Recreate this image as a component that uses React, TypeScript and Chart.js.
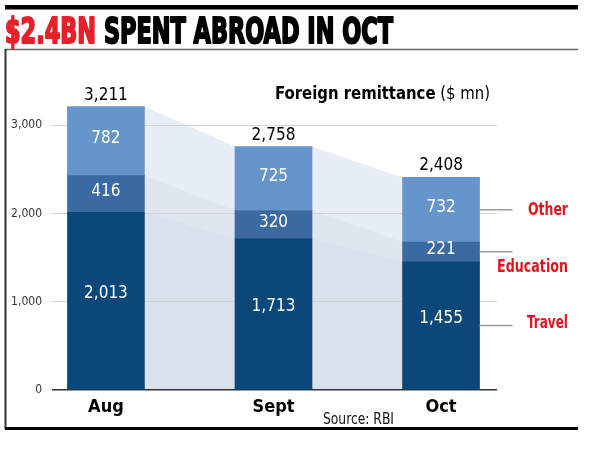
import { useEffect, useRef } from 'react';
import { Chart, registerables } from 'chart.js';
Chart.register(...registerables);

const months = ['Aug', 'Sept', 'Oct'];
const travel = [2013, 1713, 1455];
const education = [416, 320, 221];
const other = [782, 725, 732];
const yTicks = [0, 1000, 2000, 3000];
const seriesNames = ['Travel', 'Education', 'Other'];
const titleRed = '$2.4BN';
const titleBlack = ' SPENT ABROAD IN OCT';
const subtitleBold = 'Foreign remittance';
const subtitleNormal = ' ($ mn)';
const sourceText = 'Source: RBI';

const FAMILY = '"Liberation Sans Narrow", "DejaVu Sans Condensed", "Liberation Sans", Arial, sans-serif';
const BAR_COLORS = ['#0b4779', '#3b6aa3', '#6595cb'];
const SHADE_COLORS = ['#d8e1ec', '#dfe6f0', '#e6edf6'];
const RED = '#e3141f';

type Part = { text: string; font: string; color: string; stroke?: number };

function fitText(ctx: CanvasRenderingContext2D, parts: Part[], x: number, y: number, width: number, align: 'left' | 'right' | 'center' = 'left') {
  let total = 0;
  for (const p of parts) {
    ctx.font = p.font;
    total += ctx.measureText(p.text).width;
  }
  const s = width / total;
  ctx.save();
  const left = align === 'right' ? x - width : align === 'center' ? x - width / 2 : x;
  ctx.translate(left, y);
  ctx.scale(s, 1);
  ctx.textAlign = 'left';
  ctx.textBaseline = 'alphabetic';
  let cx = 0;
  for (const p of parts) {
    ctx.font = p.font;
    ctx.fillStyle = p.color;
    ctx.fillText(p.text, cx, 0);
    if (p.stroke) {
      ctx.strokeStyle = p.color;
      ctx.lineWidth = p.stroke;
      ctx.lineJoin = 'round';
      ctx.strokeText(p.text, cx, 0);
    }
    cx += ctx.measureText(p.text).width;
  }
  ctx.restore();
}

const fmt = (v: number) => v.toLocaleString('en-US');

const decorPlugin = {
  id: 'decor',
  beforeDraw(chart: any) {
    const ctx: CanvasRenderingContext2D = chart.ctx;
    ctx.save();
    ctx.fillStyle = '#ffffff';
    ctx.fillRect(0, 0, chart.width, chart.height);
    // top thick rule
    ctx.fillStyle = '#000';
    ctx.fillRect(5, 5, 573, 4.5);
    // box top
    ctx.strokeStyle = '#666';
    ctx.lineWidth = 1.5;
    ctx.beginPath();
    ctx.moveTo(5, 49.5);
    ctx.lineTo(578, 49.5);
    ctx.stroke();
    // box left
    ctx.strokeStyle = '#333';
    ctx.lineWidth = 2;
    ctx.beginPath();
    ctx.moveTo(5.5, 49);
    ctx.lineTo(5.5, 429);
    ctx.stroke();
    // bottom rule
    ctx.strokeStyle = '#000';
    ctx.lineWidth = 3;
    ctx.beginPath();
    ctx.moveTo(5, 428.5);
    ctx.lineTo(578, 428.5);
    ctx.stroke();
    // title
    const tf = `bold 36px ${FAMILY}`;
    fitText(ctx, [
      { text: titleRed, font: tf, color: '#e8202a', stroke: 2 },
      { text: titleBlack, font: tf, color: '#000', stroke: 2 },
    ], 5, 43, 388);

    // connecting shaded areas between bars
    const metas = [0, 1, 2].map((i) => chart.getDatasetMeta(i));
    const base = chart.scales.y.getPixelForValue(0);
    for (let i = 0; i < months.length - 1; i++) {
      for (let level = 2; level >= 0; level--) {
        const a = metas[level].data[i];
        const b = metas[level].data[i + 1];
        const x1 = a.x + a.width / 2;
        const x2 = b.x - b.width / 2;
        ctx.fillStyle = SHADE_COLORS[level];
        ctx.beginPath();
        ctx.moveTo(x1, a.y);
        ctx.lineTo(x2, b.y);
        ctx.lineTo(x2, base);
        ctx.lineTo(x1, base);
        ctx.closePath();
        ctx.fill();
      }
    }
    ctx.restore();
  },
  afterDatasetsDraw(chart: any) {
    const ctx: CanvasRenderingContext2D = chart.ctx;
    ctx.save();
    const metas = [0, 1, 2].map((i) => chart.getDatasetMeta(i));
    const series = [travel, education, other];
    // values inside segments
    ctx.textAlign = 'center';
    ctx.textBaseline = 'middle';
    ctx.fillStyle = '#fff';
    ctx.font = `17px ${FAMILY}`;
    metas.forEach((m, si) => {
      m.data.forEach((el: any, i: number) => {
        const cy = (el.y + el.base) / 2 - (si === 0 ? 7 : 2);
        ctx.fillText(fmt(series[si][i]), el.x, cy);
      });
    });
    // totals above
    ctx.fillStyle = '#000';
    ctx.textBaseline = 'alphabetic';
    metas[2].data.forEach((el: any, i: number) => {
      const total = travel[i] + education[i] + other[i];
      ctx.fillText(fmt(total), el.x, el.y - 7);
    });
    // subtitle
    fitText(ctx, [
      { text: subtitleBold, font: `bold 18px ${FAMILY}`, color: '#000' },
      { text: subtitleNormal, font: `18px ${FAMILY}`, color: '#000' },
    ], 275, 99, 215);
    // series labels on the right of the last bar
    const last = months.length - 1;
    const labelCfg = [
      { dy: 3, width: 41 },
      { dy: 20, width: 71 },
      { dy: 5, width: 40 },
    ];
    metas.forEach((m, si) => {
      const el = m.data[last];
      const ly = (el.y + el.base) / 2;
      const x1 = el.x + el.width / 2;
      ctx.strokeStyle = '#9a9a9a';
      ctx.lineWidth = 1.5;
      ctx.beginPath();
      ctx.moveTo(x1, ly);
      ctx.lineTo(x1 + 33, ly);
      ctx.stroke();
      fitText(ctx, [{ text: seriesNames[si], font: `bold 17px ${FAMILY}`, color: RED }], 568, ly + labelCfg[si].dy, labelCfg[si].width, 'right');
    });
    // source
    fitText(ctx, [{ text: sourceText, font: `16px ${FAMILY}`, color: '#111' }], 323, 424, 71);
    ctx.restore();
  },
};

export default function App() {
  const ref = useRef<HTMLCanvasElement>(null);
  useEffect(() => {
    document.body.style.margin = '0';
    const series = [travel, education, other];
    const chart = new Chart(ref.current!, {
      type: 'bar',
      data: {
        datasets: series.map((vals, si) => ({
          label: seriesNames[si],
          data: vals.map((v, i) => ({ x: i, y: v })),
          backgroundColor: BAR_COLORS[si],
          borderWidth: 0,
          barThickness: 77,
        })),
      },
      options: {
        responsive: false,
        animation: false,
        devicePixelRatio: 1,
        layout: { padding: { top: 81, right: 103, bottom: 0, left: 0 } },
        plugins: { legend: { display: false }, tooltip: { enabled: false } },
        scales: {
          x: {
            type: 'linear',
            stacked: true,
            offset: false,
            bounds: 'ticks',
            min: -0.322,
            max: 2.334,
            grid: { display: false, drawTicks: false, offset: false },
            border: { display: false },
            afterBuildTicks: (s: any) => {
              s.ticks = months.map((_, i) => ({ value: i }));
            },
            afterFit: (s: any) => {
              s.height = 71;
            },
            ticks: {
              autoSkip: false,
              maxRotation: 0,
              padding: 7,
              color: '#000',
              font: { family: FAMILY, size: 18, weight: 'bold' },
              callback: (v: any) => months[Math.round(Number(v))] ?? '',
            },
          },
          y: {
            stacked: true,
            min: 0,
            max: 3500,
            afterBuildTicks: (s: any) => {
              s.ticks = yTicks.map((v) => ({ value: v }));
            },
            afterFit: (s: any) => {
              s.width = 52;
            },
            grid: {
              drawTicks: false,
              color: (c: any) => (c.tick && c.tick.value === 0 ? '#333' : '#d2d2d2'),
              lineWidth: (c: any) => (c.tick && c.tick.value === 0 ? 1.5 : 1),
            },
            border: { display: false },
            ticks: {
              padding: 10,
              color: '#333',
              font: { family: FAMILY, size: 12 },
              callback: (v: any) => fmt(Number(v)),
            },
          },
        },
      } as any,
      plugins: [decorPlugin],
    });
    return () => chart.destroy();
  }, []);
  return <canvas ref={ref} width={600} height={461} style={{ display: 'block', width: 600, height: 461 }} />;
}
